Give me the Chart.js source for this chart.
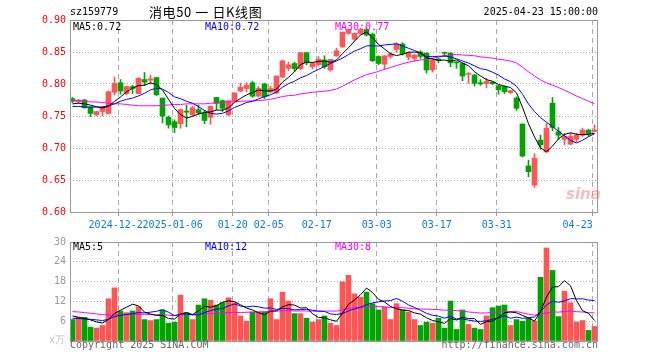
<!DOCTYPE html>
<html>
<head>
<meta charset="utf-8">
<script src="https://cdn.jsdelivr.net/npm/chart.js@4.4.1/dist/chart.umd.min.js"></script>
<style>
  html, body { margin: 0; padding: 0; background: #fff; }
  #wrap { position: relative; width: 660px; height: 360px; overflow: hidden;
          font-family: 'DejaVu Sans Mono', monospace; font-size: 10px; color: #000; }
  #wrap canvas { position: absolute; left: 0; }
  .txt { position: absolute; white-space: pre; line-height: 12px; }
</style>
</head>
<body>
<div id="wrap">
  <canvas id="priceChart" width="660" height="240" style="top:0"></canvas>
  <canvas id="volChart" width="660" height="128" style="top:232px"></canvas>

  <div class="txt" style="left:70px;top:6px;">sz159779</div>
  <div class="txt" style="left:149px;top:3px;font-family:'Noto Sans CJK SC',sans-serif;font-size:13px;line-height:18px;letter-spacing:0.6px;">消电50 一 日K线图</div>
  <div class="txt" style="right:62px;top:6px;">2025-04-23 15:00:00</div>

  <div class="txt" style="left:73px;top:21px;">MA5:0.72</div>
  <div class="txt" style="left:205px;top:21px;color:#0000ff;">MA10:0.72</div>
  <div class="txt" style="left:335px;top:21px;color:#ff00ff;">MA30:0.77</div>

  <div class="txt" style="left:73px;top:241px;">MA5:5</div>
  <div class="txt" style="left:205px;top:241px;color:#0000ff;">MA10:12</div>
  <div class="txt" style="left:335px;top:241px;color:#ff00ff;">MA30:8</div>

  <div class="txt" style="left:49px;top:334px;color:#bbb;">x万</div>
  <div class="txt" style="left:70px;top:339px;color:#666;">Copyright 2025 SINA.COM</div>
  <div class="txt" style="right:62px;top:339px;color:#666;">http://finance.sina.com.cn</div>
  <div class="txt" style="left:566px;top:186px;font-family:'DejaVu Sans',sans-serif;font-size:15px;line-height:16px;font-style:italic;font-weight:bold;color:rgba(235,110,110,0.45);">sina</div>
</div>

<script>
// trading days shown (one candle each)
var dates = ['2024-12-11','2024-12-12','2024-12-13','2024-12-16','2024-12-17','2024-12-18','2024-12-19','2024-12-20',
  '2024-12-23','2024-12-24','2024-12-25','2024-12-26','2024-12-27','2024-12-30','2024-12-31','2025-01-02','2025-01-03',
  '2025-01-06','2025-01-07','2025-01-08','2025-01-09','2025-01-10','2025-01-13','2025-01-14','2025-01-15','2025-01-16',
  '2025-01-17','2025-01-20','2025-01-21','2025-01-22','2025-01-23','2025-01-24','2025-01-27','2025-02-05','2025-02-06',
  '2025-02-07','2025-02-10','2025-02-11','2025-02-12','2025-02-13','2025-02-14','2025-02-17','2025-02-18','2025-02-19',
  '2025-02-20','2025-02-21','2025-02-24','2025-02-25','2025-02-26','2025-02-27','2025-02-28','2025-03-03','2025-03-04',
  '2025-03-05','2025-03-06','2025-03-07','2025-03-10','2025-03-11','2025-03-12','2025-03-13','2025-03-14','2025-03-17',
  '2025-03-18','2025-03-19','2025-03-20','2025-03-21','2025-03-24','2025-03-25','2025-03-26','2025-03-27','2025-03-28',
  '2025-03-31','2025-04-01','2025-04-02','2025-04-03','2025-04-07','2025-04-08','2025-04-09','2025-04-10','2025-04-11',
  '2025-04-14','2025-04-15','2025-04-16','2025-04-17','2025-04-18','2025-04-21','2025-04-22','2025-04-23'];

var open = [0.777,0.772,0.775,0.764,0.752,0.757,0.754,0.787,0.802,0.785,0.796,0.785,0.807,0.806,0.810,0.778,0.748,0.741,
  0.738,0.757,0.752,0.760,0.755,0.748,0.779,0.774,0.752,0.774,0.789,0.793,0.802,0.781,0.800,0.788,0.786,0.811,0.8245,
  0.832,0.824,0.849,0.827,0.830,0.8375,0.822,0.844,0.858,0.879,0.870,0.879,0.885,0.878,0.843,0.831,0.843,0.854,0.8625,
  0.842,0.840,0.850,0.848,0.822,0.839,0.8495,0.848,0.834,0.832,0.815,0.814,0.802,0.8005,0.803,0.797,0.796,0.7865,0.778,
  0.7375,0.672,0.642,0.7125,0.694,0.770,0.7255,0.7135,0.706,0.7135,0.720,0.728,0.726];
var high = [0.779,0.776,0.776,0.764,0.757,0.765,0.789,0.811,0.807,0.797,0.798,0.810,0.818,0.814,0.810,0.778,0.750,0.744,
  0.761,0.767,0.765,0.767,0.759,0.766,0.779,0.775,0.774,0.786,0.801,0.802,0.804,0.796,0.801,0.797,0.8125,0.8375,0.834,
  0.834,0.849,0.849,0.834,0.843,0.844,0.8385,0.856,0.881,0.885,0.880,0.887,0.888,0.879,0.844,0.844,0.849,0.8645,0.8645,
  0.850,0.847,0.852,0.849,0.840,0.840,0.850,0.849,0.835,0.833,0.818,0.815,0.807,0.809,0.804,0.798,0.797,0.790,0.780,
  0.7375,0.681,0.691,0.720,0.7385,0.779,0.732,0.723,0.723,0.723,0.731,0.729,0.736];
var low = [0.771,0.770,0.762,0.749,0.750,0.750,0.753,0.783,0.784,0.783,0.785,0.785,0.798,0.800,0.782,0.739,0.731,0.724,
  0.731,0.733,0.750,0.752,0.738,0.737,0.760,0.757,0.750,0.773,0.788,0.788,0.779,0.780,0.777,0.786,0.785,0.810,0.821,
  0.820,0.822,0.830,0.824,0.828,0.8245,0.820,0.843,0.857,0.878,0.868,0.878,0.875,0.835,0.830,0.823,0.840,0.850,0.845,
  0.8375,0.836,0.840,0.817,0.819,0.833,0.843,0.827,0.8245,0.805,0.801,0.797,0.798,0.794,0.799,0.784,0.785,0.785,0.759,
  0.686,0.655,0.6385,0.698,0.693,0.727,0.7135,0.705,0.705,0.710,0.718,0.718,0.7255];
var close = [0.773,0.775,0.763,0.754,0.757,0.764,0.788,0.801,0.789,0.796,0.793,0.809,0.803,0.808,0.783,0.750,0.736,0.732,
  0.760,0.756,0.763,0.755,0.743,0.765,0.770,0.762,0.774,0.786,0.795,0.798,0.781,0.793,0.780,0.793,0.8125,0.836,0.830,
  0.824,0.849,0.833,0.832,0.8385,0.827,0.8385,0.852,0.881,0.885,0.879,0.885,0.8765,0.8365,0.832,0.844,0.847,0.8625,0.847,
  0.848,0.845,0.843,0.822,0.8375,0.837,0.848,0.833,0.833,0.8125,0.816,0.801,0.800,0.804,0.8005,0.791,0.788,0.7895,0.762,
  0.6875,0.663,0.684,0.705,0.731,0.732,0.720,0.718,0.718,0.720,0.728,0.722,0.728];

// moving-average lines
var ma5 = [0.769,0.770,0.769,0.767,0.7644,0.7626,0.7652,0.7728,0.7798,0.7876,0.7934,0.7976,0.798,0.8018,0.7992,0.7906,
  0.776,0.7618,0.7522,0.7468,0.7494,0.7532,0.7554,0.7564,0.7592,0.759,0.7628,0.7714,0.7774,0.783,0.7868,0.7906,0.7894,
  0.789,0.7919,0.8029,0.8103,0.8191,0.8303,0.8344,0.8336,0.8353,0.8359,0.8338,0.8376,0.8474,0.8567,0.8671,0.8764,0.8813,
  0.8724,0.8618,0.8548,0.8472,0.8444,0.8465,0.8497,0.8499,0.8491,0.841,0.8391,0.8369,0.8375,0.8355,0.8377,0.8327,0.8285,
  0.8191,0.8125,0.8067,0.8043,0.7993,0.7967,0.7946,0.7862,0.7636,0.738,0.7172,0.7003,0.6941,0.703,0.7144,0.7212,0.7238,
  0.7216,0.7208,0.7212,0.7232];
var ma10 = [0.765,0.765,0.764,0.764,0.764,0.764,0.766,0.769,0.773,0.776,0.778,0.7814,0.7854,0.7908,0.7934,0.792,0.7868,
  0.7799,0.777,0.773,0.770,0.7646,0.7586,0.7543,0.753,0.7542,0.758,0.7634,0.7669,0.7711,0.7729,0.7767,0.7804,0.7832,
  0.7875,0.7949,0.8005,0.8043,0.8097,0.8132,0.8183,0.8228,0.8275,0.8321,0.836,0.8405,0.846,0.8515,0.8551,0.8595,0.8599,
  0.8593,0.861,0.8618,0.8629,0.8595,0.8558,0.8524,0.8482,0.8427,0.8428,0.8433,0.8437,0.8423,0.8394,0.8359,0.8327,0.8283,
  0.824,0.8222,0.8185,0.8139,0.8079,0.8036,0.7965,0.784,0.7687,0.757,0.7475,0.7402,0.7333,0.7262,0.7192,0.7121,0.7079,
  0.7119,0.7178,0.7222];
var ma30 = [0.774,0.774,0.773,0.772,0.772,0.771,0.770,0.769,0.769,0.768,0.767,0.766,0.766,0.766,0.766,0.767,0.767,0.768,
  0.768,0.769,0.769,0.769,0.769,0.770,0.770,0.771,0.772,0.772,0.773,0.7734,0.7736,0.7742,0.7748,0.7761,0.778,0.7804,
  0.7818,0.7825,0.7845,0.7858,0.787,0.788,0.7888,0.7899,0.7922,0.7965,0.8015,0.8064,0.8106,0.8146,0.817,0.8196,0.823,
  0.8257,0.8288,0.8316,0.8341,0.836,0.8376,0.8384,0.8403,0.8418,0.8441,0.8454,0.8461,0.8453,0.8448,0.8441,0.8424,0.8415,
  0.8404,0.8388,0.8375,0.8359,0.8329,0.8264,0.819,0.8125,0.8065,0.8017,0.7982,0.7945,0.7903,0.786,0.7812,0.7773,0.7731,
  0.7692];

// volume, in 10k lots
var volume = [6.5,7.2,7.2,4.2,3.9,4.7,12.8,16.1,9.1,8.6,9.1,10.4,6.5,6.2,6.5,9.4,5.4,5.7,13.9,8.6,6.5,10.9,12.8,12.4,10.9,
  11.6,13.1,11.6,7.6,6.0,8.8,8.8,8.8,12.8,6.5,14.8,12.1,8.3,8.3,6.9,5.7,6.5,7.6,5.4,4.7,17.9,19.9,14.3,13.3,14.8,11.3,9.4,
  10.3,6.5,11.3,9.4,8.8,6.5,4.7,5.7,5.4,6.9,3.9,12.1,3.5,9.4,5.0,3.9,3.5,7.6,10.1,10.6,10.9,4.7,6.5,6.0,6.9,6.0,19.3,28.2,
  21.4,7.4,15.1,11.6,5.7,6.2,3.2,4.4];
var volMa5 = [7.6,7.2,6.8,6.4,5.8,5.44,6.56,8.34,9.32,10.26,11.14,10.66,8.74,8.16,7.74,7.8,6.8,6.64,8.18,8.6,8.02,9.12,
  10.54,10.24,10.7,11.72,12.16,11.92,10.96,9.98,9.42,8.56,8.0,9.04,9.14,10.34,11.0,10.9,10.0,10.08,8.26,7.14,7.0,6.42,5.98,
  8.42,11.1,12.44,14.02,16.04,14.72,12.62,11.82,10.46,9.76,9.38,9.26,8.5,8.14,7.02,6.22,5.84,5.32,6.8,6.36,7.16,6.78,6.78,
  5.06,5.88,6.02,7.14,8.54,8.78,8.56,7.74,7.0,6.02,8.94,13.28,16.36,16.46,18.28,16.74,12.24,9.2,8.36,6.22];
var volMa10 = [6.9,6.8,6.7,6.6,6.4,6.2,6.6,7.4,7.8,8.03,8.29,8.61,8.54,8.74,9.0,9.47,8.73,7.69,8.17,8.17,7.91,7.96,8.59,
  9.21,9.65,9.87,10.64,11.23,10.6,10.34,10.57,10.36,9.96,10.0,9.56,9.88,9.78,9.45,9.52,9.61,9.3,9.07,8.95,8.21,8.03,8.34,
  9.12,9.72,10.22,11.01,11.57,11.86,12.13,12.24,12.9,12.05,10.94,10.16,9.3,8.39,7.8,7.55,6.91,7.47,6.69,6.69,6.31,6.05,
  5.93,6.12,6.59,6.96,7.66,6.92,7.22,6.88,7.07,7.28,8.86,10.92,12.05,11.73,12.15,12.84,12.76,12.78,12.41,12.25];
var volMa30 = [8.9,8.8,8.6,8.4,8.2,8.0,7.9,7.9,8.0,8.1,8.1,8.1,8.1,8.0,8.0,8.0,7.8,7.7,7.9,8.0,8.0,8.1,8.2,8.3,8.4,8.5,
  8.6,8.6,8.6,8.7,8.75,8.8,8.85,9.0,9.05,9.2,9.2,9.1,9.1,9.1,9.05,9.0,9.05,9.1,9.05,9.36,9.85,10.13,10.11,10.32,10.48,
  10.43,10.35,10.15,10.16,10.09,9.95,9.78,9.68,9.67,9.56,9.49,9.33,9.31,9.21,9.03,8.79,8.64,8.48,8.51,8.65,8.79,8.9,8.88,
  8.94,8.54,8.11,7.83,8.03,8.48,8.81,8.75,8.91,9.08,8.89,8.78,8.6,8.53];

// axis ticks
var xTickDates = ['2024-12-23','2025-01-06','2025-01-20','2025-02-05','2025-02-17','2025-03-03','2025-03-17','2025-03-31','2025-04-23'];
var xTickLabels = ['2024-12-23','2025-01-06','01-20','02-05','02-17','03-03','03-17','03-31','04-23     '];
var priceTicks = [0.60, 0.65, 0.70, 0.75, 0.80, 0.85, 0.90];
var volTicks = [0, 6, 12, 18, 24, 30];

var RED = '#ff5555';
var GREEN = '#00a400';
var GRID = '#aaaaaa';
var FONT = { family: "'DejaVu Sans Mono', monospace", size: 10 };
var xMin = -0.4167;           // candle 0 sits 2.5px right of the frame
var gridShift = -0.3;         // sina draws the date grid a little left of the candle

var upColors = close.map(function (c, i) { return c >= open[i] ? RED : GREEN; });
var tickIdx = xTickDates.map(function (d) { return dates.indexOf(d); });

var pts = function (arr) { return arr.map(function (v, i) { return { x: i, y: v }; }); };

var framePlugin = {
  id: 'frame',
  afterDraw: function (chart) {
    var a = chart.chartArea, ctx = chart.ctx;
    ctx.save();
    ctx.strokeStyle = '#999';
    ctx.lineWidth = 1;
    ctx.strokeRect(a.left + 0.5, a.top + 0.5, a.right - a.left - 1, a.bottom - a.top);
    ctx.restore();
  }
};

var maLine = function (label, arr, color) {
  return { type: 'line', label: label, data: pts(arr), borderColor: color, borderWidth: 1,
           pointRadius: 0, tension: 0, order: 0 };
};

var xScale = function (showLabels, height) {
  return {
    type: 'linear', min: xMin, max: xMin + dates.length, offset: false,
    afterBuildTicks: function (scale) {
      scale.ticks = tickIdx.map(function (i) { return { value: i + gridShift }; });
    },
    afterFit: function (scale) { scale.height = height; },
    grid: { color: GRID, offset: false, drawTicks: showLabels, tickLength: 4, tickColor: '#999', tickBorderDash: [] },
    border: { display: false, dash: [5, 4] },
    ticks: {
      display: showLabels, autoSkip: false, maxRotation: 0, minRotation: 0, padding: 3,
      color: '#0a7fd0', font: FONT,
      showLabelBackdrop: true, backdropColor: '#fff', backdropPadding: 0,
      callback: function (v, index) { return xTickLabels[index]; }
    }
  };
};

new Chart(document.getElementById('priceChart'), {
  type: 'bar',
  data: {
    datasets: [
      maLine('MA5', ma5, '#000000'),
      maLine('MA10', ma10, '#0000ff'),
      maLine('MA30', ma30, '#ff00ff'),
      { label: 'body', data: open.map(function (o, i) { return { x: i, y: [o, close[i]] }; }),
        backgroundColor: upColors, barThickness: 5, minBarLength: 1, grouped: false, order: 1 },
      { label: 'wick', data: low.map(function (l, i) { return { x: i, y: [l, high[i]] }; }),
        backgroundColor: upColors, barThickness: 1, grouped: false, order: 2 }
    ]
  },
  options: {
    responsive: false, animation: false, events: [],
    layout: { padding: { top: 20, right: 62, left: 0, bottom: 0 } },
    plugins: { legend: { display: false }, tooltip: { enabled: false } },
    scales: {
      x: xScale(true, 28),
      y: {
        min: 0.6, max: 0.9,
        afterBuildTicks: function (scale) {
          scale.ticks = priceTicks.map(function (v) { return { value: v }; });
        },
        afterFit: function (scale) { scale.width = 70; },
        grid: { color: GRID, drawTicks: false },
        border: { display: false, dash: [1, 2] },
        ticks: { color: '#ff0000', font: FONT, padding: 4,
                 callback: function (v) { return v.toFixed(2); } }
      }
    }
  },
  plugins: [framePlugin]
});

new Chart(document.getElementById('volChart'), {
  type: 'bar',
  data: {
    datasets: [
      maLine('MA5', volMa5, '#000000'),
      maLine('MA10', volMa10, '#0000ff'),
      maLine('MA30', volMa30, '#ff00ff'),
      { label: 'volume', data: pts(volume), backgroundColor: upColors,
        barThickness: 5, grouped: false, order: 1 }
    ]
  },
  options: {
    responsive: false, animation: false, events: [],
    layout: { padding: { top: 8, right: 62, left: 0, bottom: 0 } },
    plugins: { legend: { display: false }, tooltip: { enabled: false } },
    scales: {
      x: xScale(false, 19),
      y: {
        min: 0, max: 30,
        afterBuildTicks: function (scale) {
          scale.ticks = volTicks.map(function (v) { return { value: v }; });
        },
        afterFit: function (scale) { scale.width = 70; },
        grid: { color: GRID, drawTicks: false },
        border: { display: false, dash: [1, 2] },
        ticks: { color: '#999', font: FONT, padding: 4,
                 callback: function (v) { return v === 0 ? '' : String(v); } }
      }
    }
  },
  plugins: [framePlugin]
});
</script>
</body>
</html>
